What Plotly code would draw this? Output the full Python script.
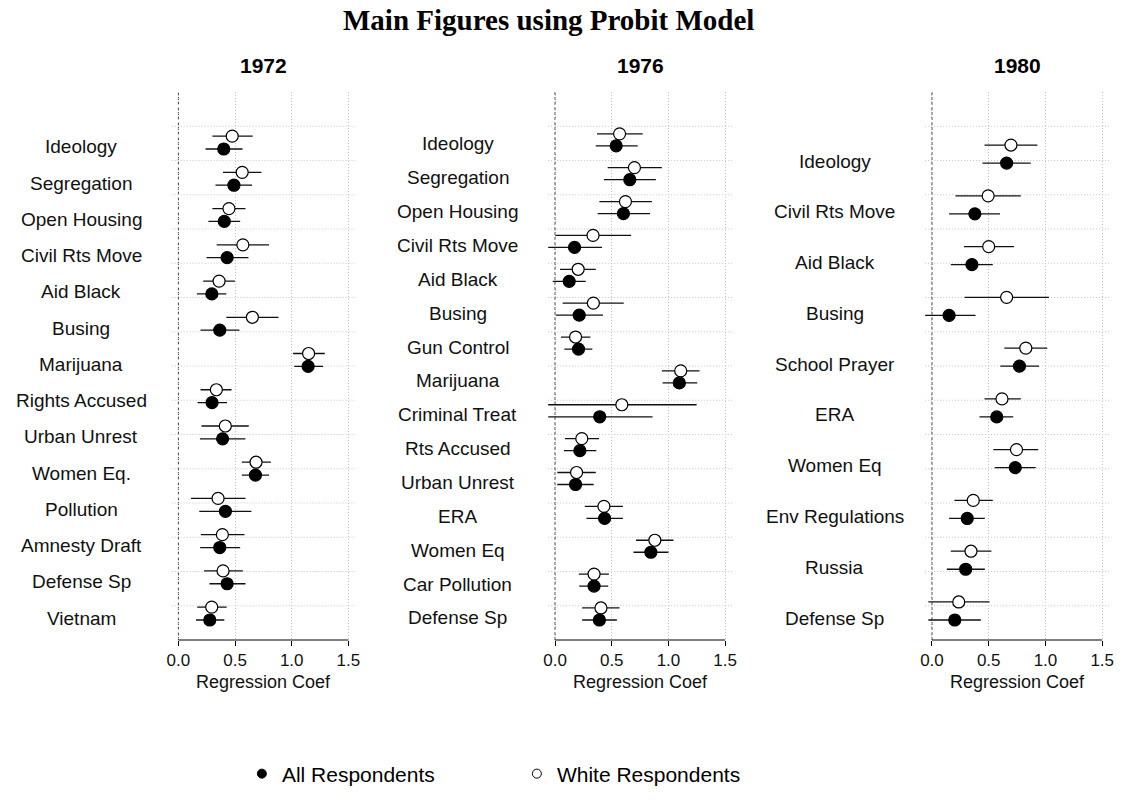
import plotly.graph_objects as go

# ---------------- data ----------------
years = ["1972", "1976", "1980"]

cats_1972 = ["Ideology", "Segregation", "Open Housing", "Civil Rts Move", "Aid Black", "Busing",
             "Marijuana", "Rights Accused", "Urban Unrest", "Women Eq.", "Pollution",
             "Amnesty Draft", "Defense Sp", "Vietnam"]
all_1972 = [0.400, 0.490, 0.405, 0.430, 0.295, 0.365, 1.145, 0.297, 0.390, 0.680, 0.415, 0.365, 0.430, 0.277]
all_lo_1972 = [0.240, 0.327, 0.265, 0.248, 0.163, 0.195, 1.023, 0.169, 0.190, 0.560, 0.184, 0.192, 0.274, 0.155]
all_hi_1972 = [0.566, 0.650, 0.545, 0.618, 0.423, 0.539, 1.277, 0.429, 0.592, 0.800, 0.644, 0.545, 0.592, 0.405]
white_1972 = [0.475, 0.563, 0.446, 0.569, 0.359, 0.653, 1.149, 0.335, 0.414, 0.685, 0.350, 0.388, 0.394, 0.294]
white_lo_1972 = [0.300, 0.394, 0.300, 0.338, 0.219, 0.423, 1.012, 0.195, 0.204, 0.560, 0.111, 0.198, 0.227, 0.166]
white_hi_1972 = [0.656, 0.732, 0.592, 0.800, 0.499, 0.883, 1.292, 0.469, 0.621, 0.816, 0.592, 0.583, 0.569, 0.426]

cats_1976 = ["Ideology", "Segregation", "Open Housing", "Civil Rts Move", "Aid Black", "Busing",
             "Gun Control", "Marijuana", "Criminal Treat", "Rts Accused", "Urban Unrest", "ERA",
             "Women Eq", "Car Pollution", "Defense Sp"]
all_1976 = [0.539, 0.659, 0.603, 0.172, 0.125, 0.213, 0.207, 1.096, 0.394, 0.219, 0.181, 0.437, 0.845, 0.344, 0.391]
all_lo_1976 = [0.359, 0.431, 0.376, -0.070, -0.020, 0.006, 0.082, 0.948, -0.072, 0.079, 0.020, 0.277, 0.691, 0.213, 0.239]
all_hi_1976 = [0.729, 0.889, 0.837, 0.414, 0.271, 0.423, 0.329, 1.254, 0.860, 0.364, 0.341, 0.598, 1.000, 0.469, 0.545]
white_1976 = [0.569, 0.700, 0.621, 0.335, 0.204, 0.338, 0.181, 1.108, 0.589, 0.236, 0.190, 0.431, 0.880, 0.344, 0.405]
white_lo_1976 = [0.370, 0.464, 0.391, 0.003, 0.044, 0.067, 0.052, 0.942, -0.070, 0.087, 0.020, 0.262, 0.714, 0.210, 0.239]
white_hi_1976 = [0.773, 0.942, 0.854, 0.671, 0.359, 0.606, 0.312, 1.274, 1.248, 0.388, 0.359, 0.598, 1.044, 0.475, 0.569]

cats_1980 = ["Ideology", "Civil Rts Move", "Aid Black", "Busing", "School Prayer", "ERA",
             "Women Eq", "Env Regulations", "Russia", "Defense Sp"]
all_1980 = [0.658, 0.378, 0.352, 0.151, 0.771, 0.571, 0.734, 0.311, 0.297, 0.201]
all_lo_1980 = [0.445, 0.151, 0.166, -0.082, 0.603, 0.419, 0.553, 0.151, 0.131, -0.032]
all_hi_1980 = [0.870, 0.600, 0.536, 0.384, 0.943, 0.716, 0.914, 0.466, 0.466, 0.431]
white_1980 = [0.696, 0.495, 0.500, 0.658, 0.827, 0.617, 0.745, 0.364, 0.344, 0.236]
white_lo_1980 = [0.463, 0.207, 0.282, 0.288, 0.638, 0.463, 0.541, 0.198, 0.166, -0.032]
white_hi_1980 = [0.929, 0.783, 0.722, 1.031, 1.016, 0.783, 0.937, 0.536, 0.524, 0.507]

x_ticks = [0, 0.5, 1.0, 1.5]
x_tick_labels = ["0.0", "0.5", "1.0", "1.5"]
series_names = ["All Respondents", "White Respondents"]
x_title = "Regression Coef"
main_title = "Main Figures using Probit Model"

# ---------------- layout helpers ----------------
W, H = 1125, 802
def px_x(p):
    return p / W
def px_y(p):
    return (H - p) / H

panels = [
    dict(year=years[0], cats=cats_1972, a=all_1972, alo=all_lo_1972, ahi=all_hi_1972,
         w=white_1972, wlo=white_lo_1972, whi=white_hi_1972,
         dom=(168.1, 353.3), label_cx=77, yr=(-0.552, 14.573)),
    dict(year=years[1], cats=cats_1976, a=all_1976, alo=all_lo_1976, ahi=all_hi_1976,
         w=white_1976, wlo=white_lo_1976, whi=white_hi_1976,
         dom=(548.1, 733.5), label_cx=457, yr=(-0.591, 15.59)),
    dict(year=years[2], cats=cats_1980, a=all_1980, alo=all_lo_1980, ahi=all_hi_1980,
         w=white_1980, wlo=white_lo_1980, whi=white_hi_1980,
         dom=(928.4, 1113.9), label_cx=837, yr=(-0.394, 10.4)),
]
XRANGE = [-0.06, 1.56]
Y_TOP_PX, Y_BOT_PX = 92, 640
OPEN_OFFSET = 0.355
FONT = "Liberation Sans, Arial, Helvetica, sans-serif"
GRID = "#c4c4c4"

fig = go.Figure()
shapes = []
annotations = []
layout_axes = {}

for k, p in enumerate(panels):
    sfx = "" if k == 0 else str(k + 1)
    xa, ya = "x" + sfx, "y" + sfx
    n = len(p["cats"])
    pos = [n - 1 - j for j in range(n)]
    pos_open = [v + OPEN_OFFSET for v in pos]

    fig.add_trace(go.Scatter(
        x=p["w"], y=pos_open, xaxis=xa, yaxis=ya, mode="markers", showlegend=False,
        name=series_names[1],
        marker=dict(symbol="circle", size=12, color="white", line=dict(color="black", width=1.2)),
        error_x=dict(type="data", symmetric=False,
                     array=[h - v for h, v in zip(p["whi"], p["w"])],
                     arrayminus=[v - l for v, l in zip(p["w"], p["wlo"])],
                     width=0, thickness=1.3, color="#111111"),
    ))
    fig.add_trace(go.Scatter(
        x=p["a"], y=pos, xaxis=xa, yaxis=ya, mode="markers", showlegend=False,
        name=series_names[0],
        marker=dict(symbol="circle", size=12, color="black", line=dict(color="black", width=1.2)),
        error_x=dict(type="data", symmetric=False,
                     array=[h - v for h, v in zip(p["ahi"], p["a"])],
                     arrayminus=[v - l for v, l in zip(p["a"], p["alo"])],
                     width=0, thickness=1.3, color="#111111"),
    ))

    layout_axes["xaxis" + sfx] = dict(
        domain=[px_x(p["dom"][0]), px_x(p["dom"][1])], range=XRANGE, anchor=ya,
        tickvals=x_ticks, ticktext=x_tick_labels, ticks="outside", ticklen=5, tickwidth=1,
        tickcolor="black", showgrid=True, gridcolor=GRID, griddash="1px,2px", gridwidth=1,
        zeroline=False, showline=False, tickfont=dict(family=FONT, size=17, color="#111111"),
        fixedrange=True,
    )
    layout_axes["yaxis" + sfx] = dict(
        domain=[px_y(Y_BOT_PX), px_y(Y_TOP_PX)], range=list(p["yr"]), anchor=xa,
        showticklabels=False, showgrid=False, zeroline=False, showline=False, ticks="",
        fixedrange=True,
    )

    # horizontal dotted grid lines
    for g in range(1, 16):
        shapes.append(dict(type="line", xref=xa + " domain", yref=ya + " domain",
                           x0=0, x1=1, y0=g / 16, y1=g / 16, layer="below",
                           line=dict(color=GRID, width=1, dash="1px,2px")))
    # dashed zero line
    shapes.append(dict(type="line", xref=xa, yref=ya + " domain", x0=0, x1=0, y0=0, y1=1,
                       layer="below", line=dict(color="#444444", width=1, dash="3px,2px")))
    # axis line from first to last tick
    shapes.append(dict(type="line", xref=xa, yref=ya + " domain", x0=x_ticks[0], x1=x_ticks[-1],
                       y0=0, y1=0, layer="above", line=dict(color="black", width=1)))

    # category labels
    for j, c in enumerate(p["cats"]):
        annotations.append(dict(text=c, xref="paper", yref=ya, x=px_x(p["label_cx"]), y=pos[j],
                                xanchor="center", yanchor="middle", showarrow=False, yshift=2,
                                font=dict(family=FONT, size=19, color="#111111")))
    # panel title
    annotations.append(dict(text="<b>" + p["year"] + "</b>", xref=xa + " domain", yref="paper",
                            x=0.5, y=px_y(65.5), xanchor="center", yanchor="middle",
                            showarrow=False, font=dict(family=FONT, size=21, color="black")))
    # x axis title
    annotations.append(dict(text=x_title, xref=xa + " domain", yref="paper", x=0.5, y=px_y(682),
                            xanchor="center", yanchor="middle", showarrow=False,
                            font=dict(family=FONT, size=18, color="#111111")))

# main title
annotations.append(dict(text="<b>" + main_title + "</b>", xref="paper", yref="paper",
                        x=px_x(548), y=px_y(20.5), xanchor="center", yanchor="middle",
                        showarrow=False, borderpad=0,
                        font=dict(family="Liberation Serif, Times New Roman, serif", size=29,
                                  color="black")))

# legend-only traces
fig.add_trace(go.Scatter(x=[None], y=[None], mode="markers", name=series_names[0],
                         marker=dict(symbol="circle", size=9, color="black",
                                     line=dict(color="black", width=1))))
fig.add_trace(go.Scatter(x=[None], y=[None], mode="markers", name=series_names[1],
                         marker=dict(symbol="circle", size=9, color="white",
                                     line=dict(color="black", width=1))))

fig.update_layout(
    width=W, height=H, margin=dict(l=0, r=0, t=0, b=0),
    paper_bgcolor="white", plot_bgcolor="white",
    showlegend=True, hovermode=False,
    legend=dict(orientation="h", x=px_x(239), xanchor="left", y=px_y(774), yanchor="middle",
                entrywidth=230, entrywidthmode="pixels", itemsizing="trace",
                font=dict(family=FONT, size=21, color="black"), bgcolor="rgba(0,0,0,0)"),
    shapes=shapes, annotations=annotations,
    **layout_axes,
)

fig.write_html("out.html", config={"displayModeBar": False},
               post_script="document.body.style.margin='0';document.body.style.overflow='hidden';")
